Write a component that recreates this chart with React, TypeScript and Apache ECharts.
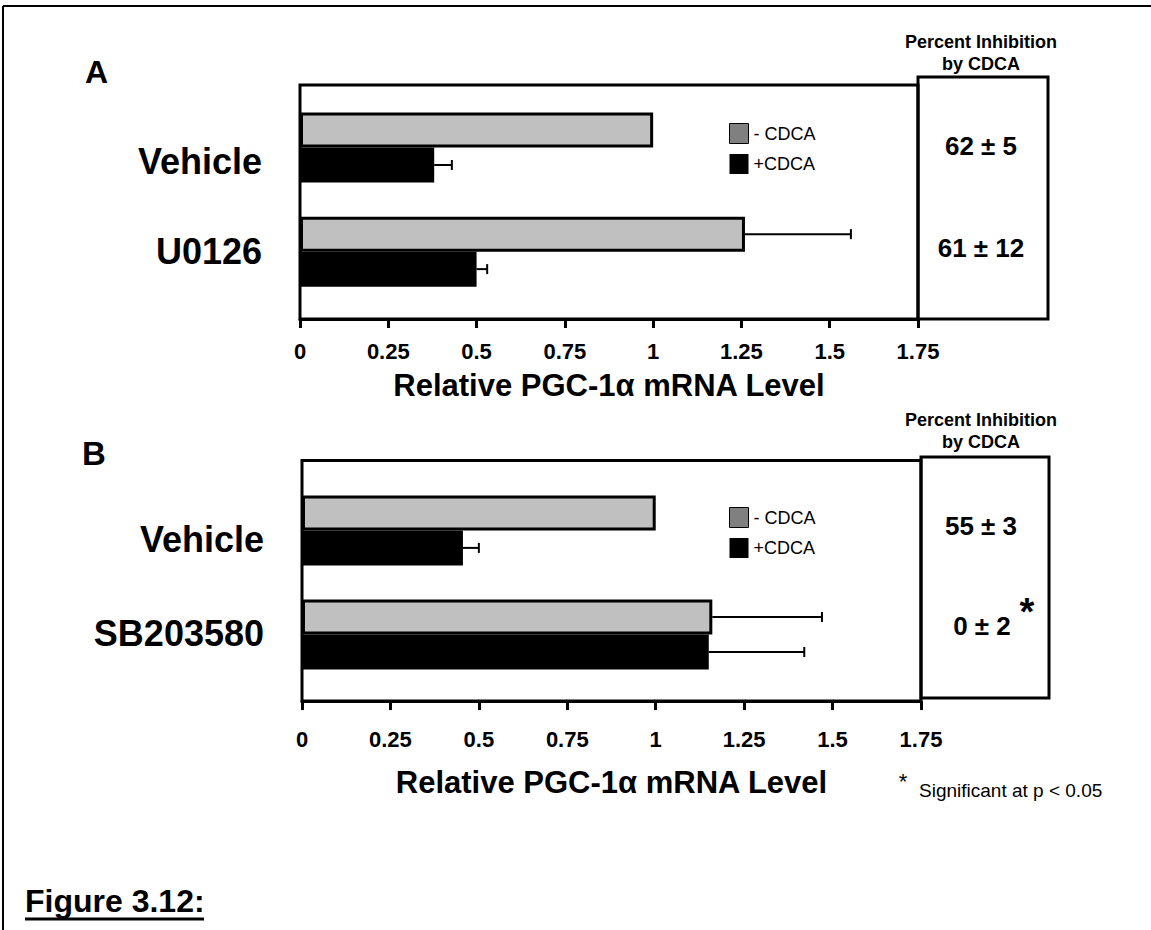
import React, { useEffect, useRef } from "react";
import * as echarts from "echarts";

const categoriesA = ["Vehicle", "U0126"];
const minusA = [1.0, 1.26];
const minusErrA = [0, 0.3];
const plusA = [0.38, 0.5];
const plusErrA = [0.05, 0.03];
const inhibitionA = ["62 ± 5", "61 ± 12"];

const categoriesB = ["Vehicle", "SB203580"];
const minusB = [1.0, 1.16];
const minusErrB = [0, 0.31];
const plusB = [0.455, 1.15];
const plusErrB = [0.045, 0.27];
const inhibitionB = ["55 ± 3", "0 ± 2"];

const seriesNames = ["- CDCA", "+CDCA"];
const xMin = 0;
const xMax = 1.75;
const xInterval = 0.25;
const axisTitle = "Relative PGC-1α mRNA Level";

const FONT = "'Liberation Sans', Arial, sans-serif";
const BAR_W = 35;

function errorRender(params: any, api: any) {
  const v = api.value(0);
  const c = api.value(1);
  const e = api.value(2);
  const side = api.value(3);
  if (!e) return null;
  const p0 = api.coord([v, c]);
  const p1 = api.coord([v + e, c]);
  const y = p0[1] + (side * BAR_W) / 2;
  return {
    type: "group",
    children: [
      { type: "line", shape: { x1: p0[0], y1: y, x2: p1[0], y2: y }, style: { stroke: "#000", lineWidth: 2 } },
      { type: "line", shape: { x1: p1[0], y1: y - 5, x2: p1[0], y2: y + 5 }, style: { stroke: "#000", lineWidth: 2 } },
    ],
  };
}

const yLabelStyle = { fontSize: 36, fontWeight: "bold", color: "#000", fontFamily: FONT };

function panelAxes(idx: number, cats: string[], nameGap: number, offset: number, shifts: number[], labelMargin: number) {
  const x = {
    type: "value",
    gridIndex: idx,
    min: xMin,
    max: xMax,
    interval: xInterval,
    offset,
    name: axisTitle,
    nameLocation: "middle",
    nameGap,
    nameTextStyle: { fontSize: 31, lineHeight: 26, fontWeight: "bold", color: "#000", fontFamily: FONT },
    splitLine: { show: false },
    axisLine: { show: true, lineStyle: { color: "#000", width: 3 } },
    axisTick: { show: true, length: 9, lineStyle: { color: "#000", width: 3 } },
    axisLabel: { fontSize: 22, lineHeight: 20, fontWeight: "bold", color: "#000", fontFamily: FONT, margin: labelMargin },
  };
  const rich: any = {};
  shifts.forEach((s, i) => {
    rich["c" + i] = { ...yLabelStyle, padding: [Math.max(0, 2 * s), 0, Math.max(0, -2 * s), 0] };
  });
  const y = {
    type: "category",
    gridIndex: idx,
    data: cats,
    inverse: true,
    axisLine: { show: false },
    axisTick: { show: false },
    axisLabel: {
      ...yLabelStyle,
      margin: 38,
      formatter: (v: string, i: number) => `{c${i}|${v}}`,
      rich,
    },
  };
  return { x, y };
}

function panelSeries(idx: number, minus: number[], minusErr: number[], plus: number[], plusErr: number[]) {
  return [
    {
      type: "bar",
      name: seriesNames[0],
      xAxisIndex: idx,
      yAxisIndex: idx,
      data: minus,
      barWidth: BAR_W,
      barGap: "0%",
      itemStyle: { color: "#C0C0C0", borderColor: "#000", borderWidth: 3 },
    },
    {
      type: "bar",
      name: seriesNames[1],
      xAxisIndex: idx,
      yAxisIndex: idx,
      data: plus,
      barWidth: BAR_W,
      barGap: "0%",
      itemStyle: { color: "#000" },
    },
    {
      type: "custom",
      xAxisIndex: idx,
      yAxisIndex: idx,
      z: 5,
      renderItem: errorRender,
      encode: { x: 0, y: 1 },
      data: [
        ...minus.map((v, i) => [v, i, minusErr[i], -1]),
        ...plus.map((v, i) => [v, i, plusErr[i], 1]),
      ],
    },
  ];
}

function legendAt(top: number) {
  return {
    orient: "vertical",
    left: 729,
    top,
    padding: 0,
    itemWidth: 19,
    itemHeight: 20,
    itemGap: 10,
    selectedMode: false,
    textStyle: { fontSize: 18, color: "#000", fontFamily: FONT },
    data: [
      { name: seriesNames[0], icon: "rect", itemStyle: { color: "#808080", borderColor: "#000", borderWidth: 1 } },
      { name: seriesNames[1], icon: "rect", itemStyle: { color: "#000", borderColor: "#000", borderWidth: 0 } },
    ],
  };
}

function txt(text: string, x: number, y: number, size: number, bold: boolean, align = "center") {
  return {
    type: "text",
    x,
    y,
    style: {
      text,
      fontSize: size,
      fontWeight: bold ? "bold" : "normal",
      fontFamily: FONT,
      fill: "#000",
      align,
      verticalAlign: "middle",
    },
  };
}

function frame(x: number, y: number, w: number, h: number) {
  return { type: "rect", z: 10, shape: { x, y, width: w, height: h }, style: { fill: "none", stroke: "#000", lineWidth: 3 } };
}

export default function App() {
  const ref = useRef<HTMLDivElement>(null);
  useEffect(() => {
    document.body.style.margin = "0";
    const chart = echarts.init(ref.current!, null, { renderer: "svg" });
    const a = panelAxes(0, categoriesA, 53, 15.3, [14, 0], 22);
    const b = panelAxes(1, categoriesB, 68, 14.5, [9, -1], 28);
    chart.setOption({
      animation: false,
      backgroundColor: "#fff",
      grid: [
        { left: 300, right: 233, top: 95.4, bottom: 626.3 },
        { left: 302, right: 230, top: 478.35, bottom: 243.45 },
      ],
      xAxis: [a.x, b.x],
      yAxis: [a.y, b.y],
      legend: [legendAt(123), legendAt(507)],
      series: [
        ...panelSeries(0, minusA, minusErrA, plusA, plusErrA),
        ...panelSeries(1, minusB, minusErrB, plusB, plusErrB),
      ],
      graphic: [
        { type: "line", shape: { x1: 3, y1: 6, x2: 1151, y2: 6 }, style: { stroke: "#000", lineWidth: 2 } },
        { type: "line", shape: { x1: 3, y1: 6, x2: 3, y2: 930 }, style: { stroke: "#000", lineWidth: 2 } },
        txt("A", 85, 72, 32, true, "left"),
        txt("B", 82, 453, 33, true, "left"),
        txt("Percent Inhibition", 981, 42, 18, true),
        txt("by CDCA", 981, 64, 18, true),
        txt("Percent Inhibition", 981, 420, 18, true),
        txt("by CDCA", 981, 442, 18, true),
        frame(300, 85, 618, 234),
        frame(302, 460.5, 619, 240.5),
        frame(918, 77, 130, 242),
        frame(921, 457, 128, 241),
        txt(inhibitionA[0], 981, 146, 26, true),
        txt(inhibitionA[1], 981, 248, 26, true),
        txt(inhibitionB[0], 981, 526, 26, true),
        txt(inhibitionB[1], 982, 626, 26, true),
        txt("*", 1027, 612, 38, true),
        txt("*", 903, 781, 22, false),
        txt("Significant at p < 0.05", 919, 790, 19, false, "left"),
        txt("Figure 3.12:", 25, 901, 32, true, "left"),
        { type: "line", shape: { x1: 25, y1: 919, x2: 204, y2: 919 }, style: { stroke: "#000", lineWidth: 3 } },
      ],
    });
    return () => chart.dispose();
  }, []);
  return <div ref={ref} style={{ width: 1151, height: 930 }} />;
}
